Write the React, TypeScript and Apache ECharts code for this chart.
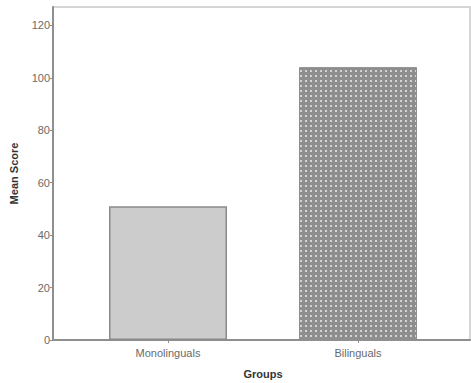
import React, { useEffect, useRef } from "react";
import * as echarts from "echarts";

const categories = ["Monolinguals", "Bilinguals"];
const meanScores = [51, 104];
const yTickValues = [0, 20, 40, 60, 80, 100, 120];
const yMax = 127;

export default function App() {
  const ref = useRef<HTMLDivElement>(null);
  useEffect(() => {
    if (!ref.current) return;
    const chart = echarts.init(ref.current, null, { renderer: "svg" });
    const font = "Liberation Sans, Arial, sans-serif";
    chart.setOption({
      animation: false,
      backgroundColor: "#ffffff",
      grid: [
        {
          left: 53, right: 1, top: 7, bottom: 43, show: true,
          borderColor: "#d6d6d6", borderWidth: 2, backgroundColor: "transparent",
          outerBoundsMode: "none", containLabel: false,
        },
        { left: 73, right: 18, top: 7, bottom: 43, show: false, outerBoundsMode: "none", containLabel: false },
      ],
      xAxis: [
        {
          gridIndex: 0, type: "value", min: 0, max: 1, position: "bottom",
          axisLine: { show: true, onZero: false, lineStyle: { color: "#8f8f8f", width: 2 } },
          axisTick: { show: false }, axisLabel: { show: false }, splitLine: { show: false },
        },
        {
          gridIndex: 1, type: "category", data: categories,
          name: "Groups", nameLocation: "middle", nameGap: 28,
          nameTextStyle: { fontFamily: font, fontSize: 11, fontWeight: "bold", color: "#333" },
          axisLine: { show: false },
          axisTick: { show: true, alignWithLabel: true, length: 3, lineStyle: { color: "#8f8f8f" } },
          axisLabel: { fontFamily: font, fontSize: 11, color: "#6a6a6a", margin: 7 },
        },
      ],
      yAxis: [
        {
          gridIndex: 0, type: "value", min: 0, max: yMax, position: "left",
          name: "Mean Score", nameLocation: "middle", nameGap: 34, nameRotate: 90,
          nameTextStyle: { fontFamily: font, fontSize: 11, fontWeight: "bold", color: "#333" },
          axisLine: { show: true, onZero: false, lineStyle: { color: "#8f8f8f", width: 2 } },
          axisTick: { show: true, length: 3, customValues: yTickValues, lineStyle: { color: "#8f8f8f" } },
          axisLabel: { fontFamily: font, fontSize: 11, color: "#6a6a6a", margin: 3, customValues: yTickValues },
          splitLine: { show: false },
        },
        {
          gridIndex: 1, type: "value", min: 0, max: yMax, show: false,
        },
      ],
      series: [
        {
          type: "bar",
          xAxisIndex: 1,
          yAxisIndex: 1,
          barWidth: 118,
          data: [
            {
              value: meanScores[0],
              itemStyle: { color: "#cccccc", borderColor: "#8a8a8a", borderWidth: 1.5 },
            },
            {
              value: meanScores[1],
              itemStyle: {
                color: "#8e8e8e",
                borderColor: "#8e8e8e",
                borderWidth: 1,
                decal: {
                  symbol: "rect",
                  symbolSize: 1,
                  color: "rgba(220,220,220,0.9)",
                  dashArrayX: [2, 3],
                  dashArrayY: [2, 3],
                  rotation: 0,
                },
              },
            },
          ],
        },
      ],
    });
    return () => chart.dispose();
  }, []);
  return (
    <div
      ref={ref}
      style={{ position: "absolute", left: 0, top: 0, width: 471, height: 383 }}
    />
  );
}
